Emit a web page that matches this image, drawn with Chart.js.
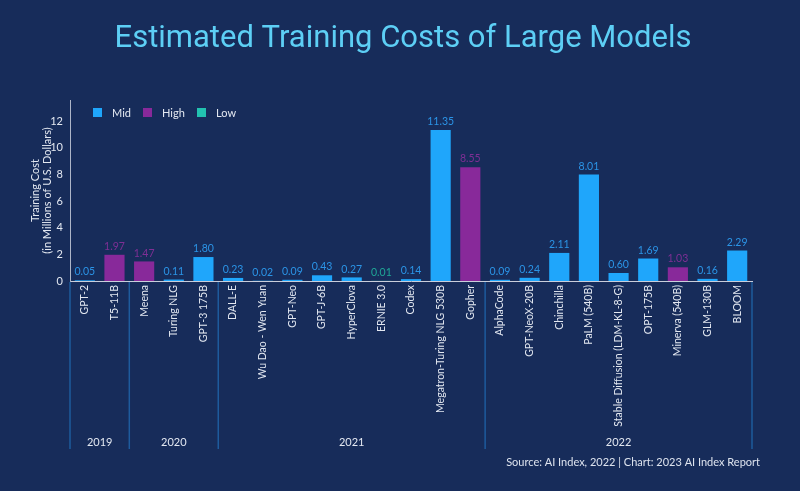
<!DOCTYPE html>
<html>
<head>
<meta charset="utf-8">
<script src="https://cdn.jsdelivr.net/npm/chart.js@4.4.0/dist/chart.umd.min.js"></script>
<style>
  html, body { margin: 0; padding: 0; background: #172c5a; }
  #wrap { width: 800px; height: 491px; }
</style>
</head>
<body>
<div id="wrap"><canvas id="grafico"></canvas></div>
<script>
// datos
const modelos = ['GPT-2', 'T5-11B', 'Meena', 'Turing NLG', 'GPT-3 175B', 'DALL-E', 'Wu Dao - Wen Yuan',
  'GPT-Neo', 'GPT-J-6B', 'HyperClova', 'ERNIE 3.0', 'Codex', 'Megatron-Turing NLG 530B', 'Gopher',
  'AlphaCode', 'GPT-NeoX-20B', 'Chinchilla', 'PaLM (540B)', 'Stable Diffusion (LDM-KL-8-G)', 'OPT-175B',
  'Minerva (540B)', 'GLM-130B', 'BLOOM']
const costos = [0.05, 1.97, 1.47, 0.11, 1.80, 0.23, 0.02, 0.09, 0.43, 0.27, 0.01, 0.14, 11.35, 8.55,
  0.09, 0.24, 2.11, 8.01, 0.60, 1.69, 1.03, 0.16, 2.29]
const nivel = ['Mid', 'High', 'High', 'Mid', 'Mid', 'Mid', 'Mid', 'Mid', 'Mid', 'Mid', 'Low', 'Mid', 'Mid', 'High',
  'Mid', 'Mid', 'Mid', 'Mid', 'Mid', 'Mid', 'High', 'Mid', 'Mid']
const anios = ['2019', '2020', '2021', '2022']
const modelosPorAnio = [2, 3, 9, 9]
const series = ['Mid', 'High', 'Low']

const colores = { Mid: '#1fa6fb', High: '#88299a', Low: '#22c2b0' }
const coloresTexto = { Mid: '#2b94e6', High: '#7f2f95', Low: '#1fa797' }
const fuente = 'Lato, "Noto Sans", sans-serif'
const claro = '#e3e8f1'

let datasets = series.map(s => ({
  label: s,
  data: costos.map((v, i) => nivel[i] === s ? v : null),
  backgroundColor: colores[s],
  barPercentage: 0.68,
  categoryPercentage: 1
}))

// etiquetas de valor encima de cada barra
const etiquetas = {
  id: 'etiquetas',
  afterDatasetsDraw(chart) {
    let ctx = chart.ctx
    ctx.save()
    ctx.font = '10.5px ' + fuente
    ctx.textAlign = 'center'
    ctx.textBaseline = 'bottom'
    chart.data.datasets.forEach((ds, d) => {
      chart.getDatasetMeta(d).data.forEach((bar, i) => {
        if (ds.data[i] == null) return
        ctx.fillStyle = coloresTexto[ds.label]
        ctx.fillText(ds.data[i].toFixed(2), bar.x, bar.y - 3)
      })
    })
    ctx.restore()
  }
}

// titulo, separadores de anio, leyenda y fuente
const extras = {
  id: 'extras',
  afterDraw(chart) {
    let ctx = chart.ctx
    let x = chart.scales.x
    let area = chart.chartArea
    let paso = x.getPixelForValue(1) - x.getPixelForValue(0)
    ctx.save()

    ctx.fillStyle = '#5dcff5'
    ctx.font = '31px Roboto, sans-serif'
    ctx.textAlign = 'center'
    ctx.textBaseline = 'middle'
    ctx.fillText('Estimated Training Costs of Large Models', 403, 39)

    let inicio = 0
    let bordes = [x.getPixelForValue(0) - paso / 2]
    modelosPorAnio.forEach(n => {
      inicio += n
      bordes.push(x.getPixelForValue(inicio - 1) + paso / 2)
    })
    ctx.strokeStyle = '#1e5b9d'
    ctx.lineWidth = 1.5
    bordes.forEach(b => {
      ctx.beginPath()
      ctx.moveTo(b, area.bottom + 1)
      ctx.lineTo(b, 449)
      ctx.stroke()
    })
    ctx.fillStyle = claro
    ctx.font = '11px ' + fuente
    anios.forEach((a, i) => {
      ctx.fillText(a, (bordes[i] + bordes[i + 1]) / 2, 442)
    })

    // leyenda
    let lx = 93
    ctx.textAlign = 'left'
    series.forEach(s => {
      ctx.fillStyle = colores[s]
      ctx.fillRect(lx, 108, 9, 9)
      ctx.fillStyle = claro
      ctx.fillText(s, lx + 19, 113)
      lx += s === 'Mid' ? 50 : 54
    })

    ctx.textAlign = 'right'
    ctx.fillStyle = '#dde3ee'
    ctx.fillText('Source: AI Index, 2022 | Chart: 2023 AI Index Report', 760, 462)
    ctx.restore()
  }
}

let grafico = new Chart(document.getElementById('grafico'), {
  type: 'bar',
  data: { labels: modelos, datasets: datasets },
  plugins: [etiquetas, extras],
  options: {
    responsive: true,
    maintainAspectRatio: false,
    animation: false,
    layout: { padding: { left: 0, right: 48, top: 100, bottom: 0 } },
    plugins: {
      legend: { display: false },
      tooltip: { enabled: false },
      title: { display: false }
    },
    scales: {
      x: {
        stacked: true,
        afterFit(scale) { scale.height = 210 },
        grid: { display: false, drawTicks: false },
        border: { color: '#c9cedb', width: 1 },
        ticks: {
          autoSkip: false,
          maxRotation: 90,
          minRotation: 90,
          padding: 4,
          color: claro,
          font: { family: fuente, size: 10.5 }
        }
      },
      y: {
        stacked: true,
        min: 0,
        max: 13.6,
        afterFit(scale) { scale.width = 70 },
        afterBuildTicks(scale) { scale.ticks = scale.ticks.filter(t => t.value % 2 === 0) },
        grid: { display: false, drawTicks: false },
        border: { color: '#aeb6c8', width: 1 },
        ticks: {
          stepSize: 2,
          padding: 7,
          color: claro,
          font: { family: fuente, size: 11 }
        },
        title: {
          display: true,
          text: ['Training Cost', '(in Millions of U.S. Dollars)'],
          color: claro,
          font: { family: fuente, size: 11, lineHeight: 1.1 },
          padding: { top: 29, bottom: 0 }
        }
      }
    }
  }
})
</script>
</body>
</html>
